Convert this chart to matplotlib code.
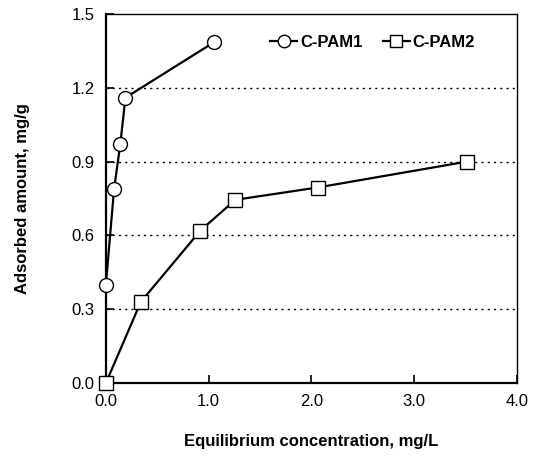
import matplotlib.pyplot as plt

plt.rcParams['font.family'] = ['Liberation Sans', 'DejaVu Sans']

# C-PAM1
x_pam1 = [0.0, 0.08, 0.14, 0.19, 1.05]
y_pam1 = [0.40, 0.79, 0.97, 1.16, 1.385]

# C-PAM2
x_pam2 = [0.0, 0.34, 0.92, 1.26, 2.06, 3.51]
y_pam2 = [0.0, 0.33, 0.62, 0.745, 0.795, 0.90]

x_ticks = [0.0, 1.0, 2.0, 3.0, 4.0]
y_ticks = [0.0, 0.3, 0.6, 0.9, 1.2, 1.5]
grid_levels = [0.3, 0.6, 0.9, 1.2]

fig = plt.figure(figsize=(5.43, 4.70), dpi=100)
ax = fig.add_axes([0.195, 0.185, 0.757, 0.785])

for g in grid_levels:
    ax.axhline(g, color='black', linestyle=(0, (1.5, 3)), linewidth=1.0, zorder=1)

mk = dict(color='black', linewidth=1.6, markerfacecolor='white',
          markeredgecolor='black', markeredgewidth=1.0, markersize=10,
          zorder=3, clip_on=False)
ax.plot(x_pam1, y_pam1, marker='o', label='C-PAM1', **mk)
ax.plot(x_pam2, y_pam2, marker='s', label='C-PAM2', **mk)

ax.set_xlim(0, 4.0)
ax.set_ylim(0, 1.5)
ax.set_xticks(x_ticks)
ax.set_yticks(y_ticks)
ax.set_xticklabels([f'{v:.1f}' for v in x_ticks])
ax.set_yticklabels([f'{v:.1f}' for v in y_ticks])
ax.tick_params(direction='in', length=6, width=1.2, labelsize=12, pad=8)

for s in ax.spines.values():
    s.set_linewidth(1.6)
    s.set_zorder(2)
ax.spines['right'].set_linewidth(1.0)
ax.spines['top'].set_linewidth(1.0)

ax.set_xlabel('Equilibrium concentration, mg/L', fontsize=12, fontweight='bold', labelpad=18)
ax.set_ylabel('Adsorbed amount, mg/g', fontsize=12, fontweight='bold', labelpad=30)

ax.legend(loc='upper right', ncol=2, frameon=False, handlelength=1.6,
          columnspacing=1.2, handletextpad=0.2, markerscale=0.9,
          prop={'weight': 'bold', 'size': 12}, bbox_to_anchor=(0.935, 0.985))

fig.savefig('out.png', dpi=100)
